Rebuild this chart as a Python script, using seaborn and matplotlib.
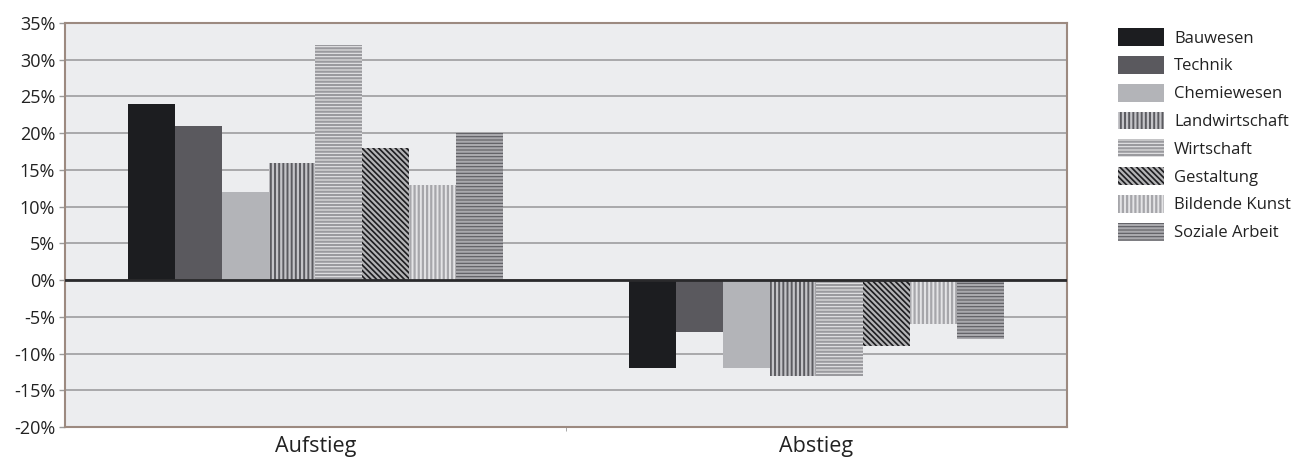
import matplotlib
matplotlib.use("Agg")
import matplotlib.pyplot as plt
import matplotlib.ticker as mticker
import pandas as pd
import seaborn as sns

# Chart data (percent)
categories = ["Aufstieg", "Abstieg"]
sectors = ["Bauwesen", "Technik", "Chemiewesen", "Landwirtschaft",
           "Wirtschaft", "Gestaltung", "Bildende Kunst", "Soziale Arbeit"]
aufstieg = [24, 21, 12, 16, 32, 18, 13, 20]
abstieg = [-12, -7, -12, -13, -13, -9, -6, -8]
y_ticks = [-20, -15, -10, -5, 0, 5, 10, 15, 20, 25, 30, 35]

# Fill styles: face colour, hatch colour, hatch pattern
face_colors = ["#1c1d20", "#5a595e", "#b3b4b8", "#5b5b60",
               "#e6e6e8", "#1e1e21", "#e4e4e6", "#5c5c61"]
hatch_colors = [None, None, None, "#c4c4c8",
                "#9a9a9e", "#b4b4b6", "#a6a6aa", "#a9a9ad"]
hatches = [None, None, None, "||||", "-----", "\\\\\\\\\\\\", "||||", "-----"]

rows = []
for cat, vals in zip(categories, [aufstieg, abstieg]):
    for s, v in zip(sectors, vals):
        rows.append({"Kategorie": cat, "Bereich": s, "Wert": v})
df = pd.DataFrame(rows)

sns.set_style("white")
plt.rcParams["font.family"] = ["Open Sans", "DejaVu Sans"]
plt.rcParams["hatch.linewidth"] = 1.6

fig = plt.figure(figsize=(13.05, 4.59), dpi=100)
ax = fig.add_axes([0.0498, 0.0697, 0.7678, 0.8803])
ax.set_facecolor("#ecedef")

sns.barplot(data=df, x="Kategorie", y="Wert", hue="Bereich",
            order=categories, hue_order=sectors,
            palette=face_colors, width=0.75, gap=0, saturation=1,
            linewidth=0, legend=False, ax=ax, zorder=3)

for cont, fc, hc, h in zip(ax.containers, face_colors, hatch_colors, hatches):
    for bar in cont.patches:
        bar.set_facecolor(fc)
        bar.set_linewidth(0)
        if h is not None:
            bar.set_hatch(h)
            bar.set_edgecolor(hc)
        else:
            bar.set_edgecolor(fc)

ax.set_ylim(-20, 35)
ax.set_xlim(-0.5, 1.5)
ax.set_yticks(y_ticks)
ax.yaxis.set_major_formatter(mticker.FuncFormatter(lambda v, p: f"{int(v)}%"))
ax.yaxis.grid(True, color="#a9a9ab", linewidth=1.4, zorder=1)
ax.set_axisbelow(True)
ax.axhline(0, color="#2a2a2c", linewidth=2, zorder=4)

ax.set_xlabel("")
ax.set_ylabel("")
ax.tick_params(axis="y", which="major", left=True, length=4, width=1,
               color="#9a9a9a", labelsize=13, pad=3, labelcolor="#222222")
ax.tick_params(axis="x", which="major", bottom=False, labelsize=15.5,
               pad=3, labelcolor="#222222")
ax.set_xticks([0.5], minor=True)
ax.tick_params(axis="x", which="minor", bottom=True, length=3, color="#9a9a9a")

for side in ["left", "right", "top", "bottom"]:
    ax.spines[side].set_color("#9c8a80")
    ax.spines[side].set_linewidth(1.5)

handles = [c.patches[0] for c in ax.containers]
leg = ax.legend(handles, sectors, loc="upper left",
                bbox_to_anchor=(1.051, 0.987), frameon=False, fontsize=12,
                handlelength=2.76, handleheight=1.26, handletextpad=0.6,
                labelspacing=0.56, borderaxespad=0.0, borderpad=0.0)
for t in leg.get_texts():
    t.set_color("#222222")

fig.savefig("out.png", dpi=100, facecolor="white")
